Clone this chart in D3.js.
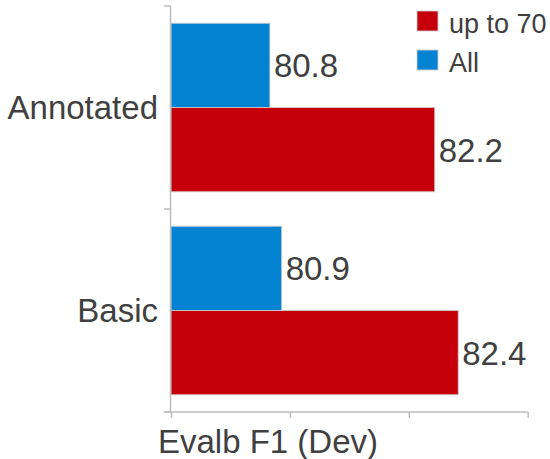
<!DOCTYPE html>
<html>
<head>
<meta charset="utf-8">
<script src="https://cdn.jsdelivr.net/npm/d3@7"></script>
<style>
  html, body { margin: 0; padding: 0; background: #fff; }
  svg { display: block; }
  text { font-family: "Liberation Sans", Arial, Helvetica, sans-serif; fill: #404040; }
</style>
</head>
<body>
<svg id="chart" width="550" height="459"></svg>
<script>
// Categories (top to bottom) and series
const categories = ["Annotated", "Basic"];
const seriesNames = ["All", "up to 70"];
const allValues = [80.8, 80.9];
const upTo70Values = [82.2, 82.4];
const xDomain = [79.96, 82.99];
const xTicks = [79.96, 80.97, 81.98, 82.99];
const legendOrder = ["up to 70", "All"];

const colors = { "All": "#0483d2", "up to 70": "#c6000b" };

const svg = d3.select("#chart");
const plot = { left: 171, right: 527.7, top: 6, bottom: 412 };

const x = d3.scaleLinear().domain(xDomain).range([plot.left, plot.right]);
const y = d3.scaleBand().domain(categories).range([plot.top, plot.bottom])
  .paddingInner(0.17).paddingOuter(0.085);
const ySub = d3.scaleBand().domain(seriesNames).range([0, y.bandwidth()]);

const rows = categories.map((c, i) => ({
  category: c,
  values: [
    { series: "All", value: allValues[i] },
    { series: "up to 70", value: upTo70Values[i] }
  ]
}));

// Bars
const groups = svg.append("g").selectAll("g")
  .data(rows).join("g")
  .attr("transform", d => `translate(0,${y(d.category)})`);

groups.selectAll("rect")
  .data(d => d.values).join("rect")
  .attr("x", x(xDomain[0]))
  .attr("y", d => ySub(d.series))
  .attr("width", d => x(d.value) - x(xDomain[0]))
  .attr("height", ySub.bandwidth())
  .attr("fill", d => colors[d.series])
  .attr("stroke", "rgba(205,205,205,0.85)")
  .attr("stroke-width", 1);

// Value labels
groups.selectAll("text.val")
  .data(d => d.values).join("text")
  .attr("class", "val")
  .attr("x", d => x(d.value) + 4)
  .attr("y", d => ySub(d.series) + ySub.bandwidth() / 2 + 12)
  .attr("font-size", 33)
  .text(d => d.value.toFixed(1));

// Y axis: line with ticks on the band boundaries
const yAxisG = svg.append("g");
yAxisG.append("line")
  .attr("x1", plot.left - 0.5).attr("x2", plot.left - 0.5)
  .attr("y1", plot.top).attr("y2", plot.bottom)
  .attr("stroke", "#bdbdbd").attr("stroke-width", 1.5);
const yBounds = [plot.top, (plot.top + plot.bottom) / 2, plot.bottom];
yAxisG.selectAll("line.tk").data(yBounds).join("line")
  .attr("class", "tk")
  .attr("x1", plot.left - 7).attr("x2", plot.left)
  .attr("y1", d => d).attr("y2", d => d)
  .attr("stroke", "#bdbdbd").attr("stroke-width", 1.5);

// Category labels
svg.append("g").selectAll("text")
  .data(categories).join("text")
  .attr("x", 158)
  .attr("y", d => y(d) + y.bandwidth() / 2 + 11)
  .attr("text-anchor", "end")
  .attr("font-size", 33)
  .text(d => d);

// X axis without labels
const xAxis = d3.axisBottom(x).tickValues(xTicks).tickSize(6).tickFormat("");
const xAxisG = svg.append("g")
  .attr("transform", `translate(0,${plot.bottom})`)
  .call(xAxis);
xAxisG.select(".domain").remove();
xAxisG.append("line")
  .attr("x1", plot.left - 7).attr("x2", plot.right)
  .attr("y1", 0).attr("y2", 0)
  .attr("stroke", "#bdbdbd").attr("stroke-width", 1.5);
xAxisG.selectAll(".tick line").attr("stroke", "#bdbdbd").attr("stroke-width", 1.5);

// Axis title
svg.append("text")
  .attr("x", 268)
  .attr("y", 453)
  .attr("text-anchor", "middle")
  .attr("font-size", 33)
  .text("Evalb F1 (Dev)");

// Legend
const legend = svg.append("g").attr("transform", "translate(417,11)");
const li = legend.selectAll("g").data(legendOrder).join("g")
  .attr("transform", (d, i) => `translate(0,${i * 39})`);
li.append("rect")
  .attr("width", 21).attr("height", 20)
  .attr("fill", d => colors[d])
  .attr("stroke", "rgba(205,205,205,0.85)").attr("stroke-width", 1);
li.append("text")
  .attr("x", 32).attr("y", 22)
  .attr("font-size", 27)
  .text(d => d);
</script>
</body>
</html>
